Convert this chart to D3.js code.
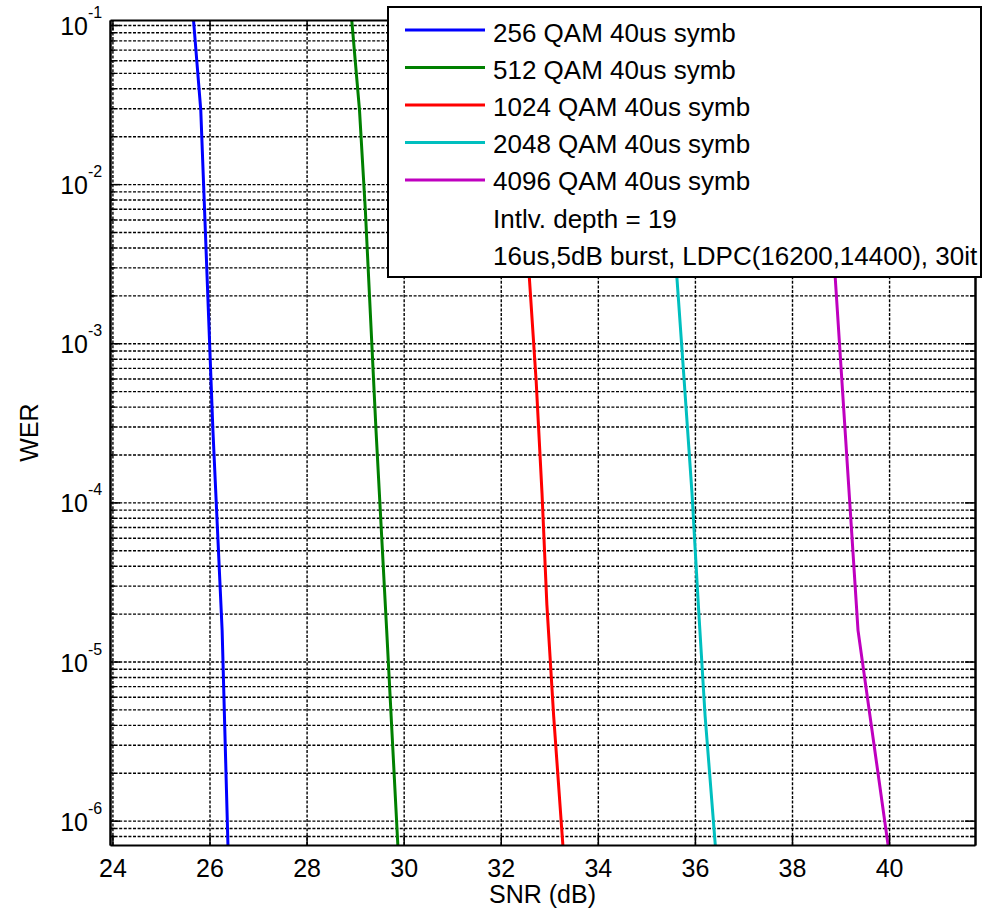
<!DOCTYPE html>
<html><head><meta charset="utf-8">
<script src="https://cdn.jsdelivr.net/npm/d3@7"></script>
<style>
body{margin:0;background:#fff}
text{font-family:"Liberation Sans",Arial,Helvetica,sans-serif;fill:#000}
</style>
</head><body>
<svg id="chart" width="983" height="917"></svg>
<script>
// ---- data ----
const seriesLabels = ["256 QAM 40us symb","512 QAM 40us symb","1024 QAM 40us symb","2048 QAM 40us symb","4096 QAM 40us symb"];
const seriesColors = ["#0000ff","#008000","#ff0000","#00bfbf","#bf00bf"];
const extraLegend = ["Intlv. depth = 19","16us,5dB burst, LDPC(16200,14400), 30it"];

const snr256 = [25.67, 25.82, 26.07, 26.26, 26.38];
const wer256 = [0.1075, 0.0292, 2.84e-4, 1.57e-5, 7.0e-7];
const snr512 = [28.93, 29.09, 29.21, 29.43, 29.65, 29.88];
const wer512 = [0.1075, 0.0292, 6.9e-3, 2.84e-4, 1.57e-5, 7.0e-7];
const snr1024 = [32.25, 32.59, 32.73, 32.85, 32.95, 33.09, 33.28];
const wer1024 = [0.1, 2.56e-3, 5.74e-4, 1.14e-4, 2.28e-5, 4.54e-6, 7.0e-7];
const snr2048 = [35.3, 35.63, 35.78, 35.94, 36.07, 36.21, 36.42];
const wer2048 = [0.1, 2.56e-3, 5.74e-4, 1.14e-4, 2.28e-5, 4.54e-6, 7.0e-7];
const snr4096 = [38.55, 38.89, 39.36, 39.98];
const wer4096 = [0.1, 2.6e-3, 1.57e-5, 7.0e-7];

const xTicks = [24, 26, 28, 30, 32, 34, 36, 38, 40];
const yMajorExp = [-6, -5, -4, -3, -2, -1];

const xLabel = "SNR (dB)";
const yLabel = "WER";

// ---- layout ----
const L = 110, R = 975, T = 20, B = 845;
const svg = d3.select("#chart");

const x = d3.scaleLinear().domain([23.95, 41.77]).range([L, R]);
const y = d3.scaleLog().domain([Math.pow(10, -6.153), Math.pow(10, -0.9686)]).range([B, T]);

const yMajor = yMajorExp.map(e => Math.pow(10, e));
const yAll = [];
for (let e = -7; e <= -1; e++) for (let k = 1; k <= 9; k++) {
  const v = k * Math.pow(10, e);
  if (v >= y.domain()[0] && v <= y.domain()[1]) yAll.push(v);
}
const yMinor = yAll.filter(v => !yMajor.some(m => Math.abs(m - v) / m < 1e-9));

// ---- grid ----
const gridStyle = g => {
  g.select(".domain").remove();
  g.selectAll(".tick line").attr("stroke", "#000").attr("stroke-width", 1.4).attr("stroke-dasharray", "3,1.6");
};
svg.append("g").attr("transform", `translate(0,${B})`)
  .call(d3.axisBottom(x).tickValues(xTicks).tickSize(-(B - T)).tickFormat(""))
  .call(gridStyle);
svg.append("g").attr("transform", `translate(${L},0)`)
  .call(d3.axisLeft(y).tickValues(yAll).tickSize(-(R - L)).tickFormat(""))
  .call(gridStyle);

// ---- curves ----
svg.append("clipPath").attr("id", "plotclip").append("rect")
  .attr("x", L).attr("y", T).attr("width", R - L).attr("height", B - T);
const series = [
  [snr256, wer256], [snr512, wer512], [snr1024, wer1024], [snr2048, wer2048], [snr4096, wer4096]
];
const line = d3.line().x(d => x(d[0])).y(d => y(d[1]));
const curves = svg.append("g").attr("clip-path", "url(#plotclip)");
series.forEach((s, i) => {
  const pts = s[0].map((v, j) => [v, s[1][j]]);
  curves.append("path").datum(pts).attr("d", line)
    .attr("fill", "none").attr("stroke", seriesColors[i]).attr("stroke-width", 3)
    .attr("stroke-linejoin", "round");
});

// ---- axes (ticks inward on all sides) ----
const axStyle = g => {
  g.select(".domain").attr("stroke", "#000").attr("stroke-width", 2);
  g.selectAll(".tick line").attr("stroke", "#000").attr("stroke-width", 1.5);
  g.selectAll(".tick text").style("font-size", "25px").attr("fill", "#000");
};
svg.append("g").attr("transform", `translate(0,${B})`)
  .call(d3.axisBottom(x).tickValues(xTicks).tickSizeInner(-10).tickSizeOuter(0).tickPadding(14))
  .call(axStyle);
svg.append("g").attr("transform", `translate(0,${T})`)
  .call(d3.axisTop(x).tickValues(xTicks).tickSizeInner(-10).tickSizeOuter(0).tickFormat(""))
  .call(axStyle);
svg.append("g").attr("transform", `translate(${L},0)`)
  .call(d3.axisLeft(y).tickValues(yMajor).tickSizeInner(-10).tickSizeOuter(0).tickFormat(""))
  .call(axStyle);
svg.append("g").attr("transform", `translate(${L},0)`)
  .call(d3.axisLeft(y).tickValues(yMinor).tickSizeInner(-5).tickSizeOuter(0).tickFormat(""))
  .call(axStyle);
svg.append("g").attr("transform", `translate(${R},0)`)
  .call(d3.axisRight(y).tickValues(yMajor).tickSizeInner(-10).tickSizeOuter(0).tickFormat(""))
  .call(axStyle);
svg.append("g").attr("transform", `translate(${R},0)`)
  .call(d3.axisRight(y).tickValues(yMinor).tickSizeInner(-5).tickSizeOuter(0).tickFormat(""))
  .call(axStyle);

// y tick labels with superscript exponents
const yl = svg.append("g");
yMajorExp.forEach(e => {
  const yy = y(Math.pow(10, e));
  yl.append("text").attr("x", 88).attr("y", yy + 10).attr("text-anchor", "end")
    .style("font-size", "25px").text("10");
  yl.append("text").attr("x", 88).attr("y", yy - 7).attr("text-anchor", "start")
    .style("font-size", "16px").text(String(e));
});

// axis titles
svg.append("text").attr("x", (L + R) / 2).attr("y", 903).attr("text-anchor", "middle")
  .style("font-size", "25px").text(xLabel);
svg.append("text").attr("transform", `translate(38,${(T + B) / 2}) rotate(-90)`)
  .attr("text-anchor", "middle").style("font-size", "25px").text(yLabel);

// ---- legend ----
const lg = svg.append("g");
lg.append("rect").attr("x", 388).attr("y", 7).attr("width", 593).attr("height", 270)
  .attr("fill", "#fff").attr("stroke", "#000").attr("stroke-width", 2);
seriesLabels.forEach((lab, i) => {
  const cy = 30 + i * 37.5;
  lg.append("line").attr("x1", 405).attr("x2", 485).attr("y1", cy).attr("y2", cy)
    .attr("stroke", seriesColors[i]).attr("stroke-width", 3);
  lg.append("text").attr("x", 493).attr("y", 41.5 + i * 37.2).style("font-size", "26px").text(lab);
});
extraLegend.forEach((lab, j) => {
  lg.append("text").attr("x", 493).attr("y", 41.5 + (5 + j) * 37.2).style("font-size", "26px").text(lab);
});
</script>
</body></html>
